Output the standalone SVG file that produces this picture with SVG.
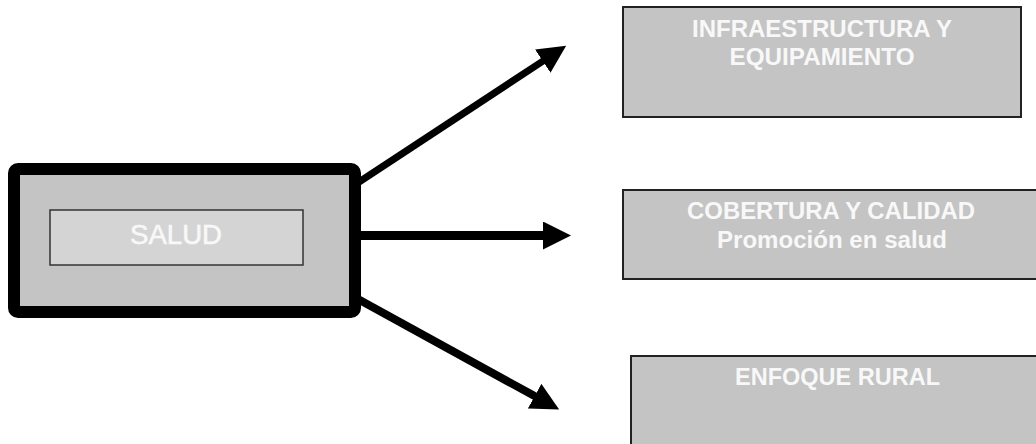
<svg xmlns="http://www.w3.org/2000/svg" width="1036" height="444" viewBox="0 0 1036 444">
<defs>
<style>
.box{fill:#c4c4c4;stroke:#222;stroke-width:2}
.lbl{font-family:"Liberation Sans",Arial,sans-serif;font-weight:bold;font-size:23px;fill:#f8f8f8;text-anchor:middle}
.conn{stroke:#000;fill:none;marker-end:url(#ah)}
</style>
<marker id="ah" viewBox="0 0 28 28" refX="1" refY="14" markerWidth="28" markerHeight="28" markerUnits="userSpaceOnUse" orient="auto">
<path d="M0,0 L28,14 L0,28 Z" fill="#000"/>
</marker>
</defs>
<rect width="1036" height="444" fill="#fff"/>
<g id="connectors">
<line class="conn" x1="356" y1="184" x2="543.6" y2="60.6" stroke-width="7"/>
<line class="conn" x1="356" y1="235.5" x2="544" y2="235.5" stroke-width="9"/>
<line class="conn" x1="356" y1="298" x2="535.5" y2="396.6" stroke-width="8"/>
</g>
<g id="salud">
<rect x="14" y="169" width="341" height="143" rx="4" fill="#c4c4c4" stroke="#000" stroke-width="12"/>
<rect x="50" y="210" width="253" height="55" fill="#d4d4d4" stroke="#333" stroke-width="1.5"/>
<text x="176" y="244" font-family="'Liberation Sans',Arial,sans-serif" font-size="28" fill="#f8f8f8" stroke="#f8f8f8" stroke-width="0.6" text-anchor="middle" textLength="92" lengthAdjust="spacingAndGlyphs">SALUD</text>
</g>
<g id="infraestructura">
<rect class="box" x="623" y="7" width="398" height="110"/>
<text class="lbl" x="822" y="37" textLength="260" lengthAdjust="spacingAndGlyphs">INFRAESTRUCTURA Y</text>
<text class="lbl" x="822" y="65" textLength="185" lengthAdjust="spacingAndGlyphs">EQUIPAMIENTO</text>
</g>
<g id="cobertura">
<rect class="box" x="623" y="190" width="420" height="89"/>
<text class="lbl" x="831" y="219" textLength="288" lengthAdjust="spacingAndGlyphs">COBERTURA Y CALIDAD</text>
<text class="lbl" x="832" y="248" textLength="230" lengthAdjust="spacingAndGlyphs">Promoción en salud</text>
</g>
<g id="enfoque">
<rect class="box" x="631" y="356" width="412" height="100"/>
<text class="lbl" x="837.5" y="385" textLength="205" lengthAdjust="spacingAndGlyphs">ENFOQUE RURAL</text>
</g>
</svg>
